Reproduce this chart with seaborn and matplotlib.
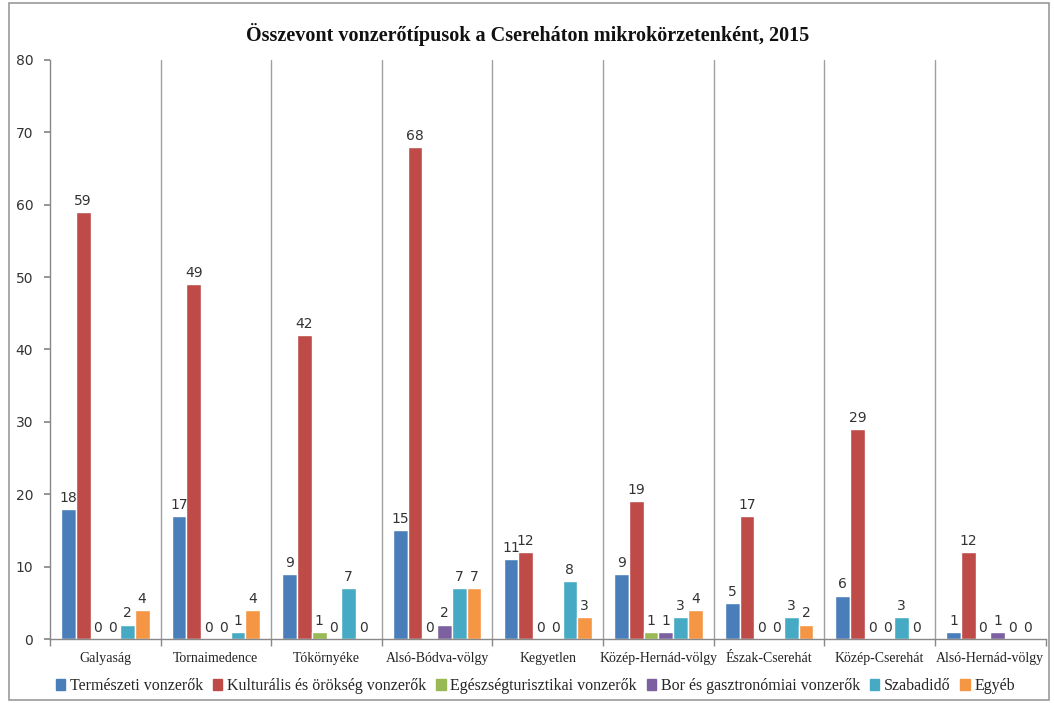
import matplotlib
matplotlib.use("Agg")
import matplotlib.pyplot as plt
import seaborn as sns
import pandas as pd
from matplotlib.patches import Rectangle

categories = ["Galyaság", "Tornaimedence", "Tókörnyéke", "Alsó-Bódva-völgy", "Kegyetlen",
              "Közép-Hernád-völgy", "Észak-Cserehát", "Közép-Cserehát", "Alsó-Hernád-völgy"]
series = ["Természeti vonzerők", "Kulturális és örökség vonzerők", "Egészségturisztikai vonzerők",
          "Bor és gasztronómiai vonzerők", "Szabadidő", "Egyéb"]
termeszeti = [18, 17, 9, 15, 11, 9, 5, 6, 1]
kulturalis = [59, 49, 42, 68, 12, 19, 17, 29, 12]
egeszseg = [0, 0, 1, 0, 0, 1, 0, 0, 0]
bor = [0, 0, 0, 2, 0, 1, 0, 0, 1]
szabadido = [2, 1, 7, 7, 8, 3, 3, 3, 0]
egyeb = [4, 4, 0, 7, 3, 4, 2, 0, 0]
yticks = [0, 10, 20, 30, 40, 50, 60, 70, 80]

colors = ["#4A7EBB", "#BE4B48", "#98B954", "#7D60A0", "#46AAC5", "#F59645"]

values = [termeszeti, kulturalis, egeszseg, bor, szabadido, egyeb]
rows = []
for s, vals in zip(series, values):
    for c, v in zip(categories, vals):
        rows.append({"cat": c, "series": s, "value": v})
df = pd.DataFrame(rows)

sns.set_theme(style="white")
plt.rcParams['font.family'] = ['Liberation Serif', 'DejaVu Sans']

fig = plt.figure(figsize=(10.54, 7.03), dpi=100)
ax = fig.add_axes([0.0474, 0.091, 0.9446, 0.8237])

sns.barplot(data=df, x="cat", y="value", hue="series", order=categories, hue_order=series,
            palette=colors, width=0.8, saturation=1, ax=ax, legend=True, errorbar=None)

for cont in ax.containers:
    ax.bar_label(cont, padding=3, fontsize=10, family="DejaVu Sans", color="#333333")

ax.set_xlim(-0.5, len(categories) - 0.5)
ax.set_ylim(0, 80)
ax.set_yticks(yticks)
ax.set_yticklabels([str(t) for t in yticks], family="DejaVu Sans", fontsize=10, color="#333333")
ax.tick_params(axis="y", length=4, color="#888888", direction="out", left=True, pad=8)
ax.set_xticks(range(len(categories)))
ax.set_xticklabels(categories, fontsize=10, color="#222222")
ax.tick_params(axis="x", which="major", length=0, pad=9)
ax.set_xticks([i + 0.5 for i in range(-1, len(categories))], minor=True)
ax.tick_params(axis="x", which="minor", length=5, color="#888888", direction="out", bottom=True)
ax.set_xlabel("")
ax.set_ylabel("")

for i in range(len(categories) - 1):
    ax.axvline(i + 0.5, color="#A0A0A0", lw=1, zorder=0)

for side in ["top", "right"]:
    ax.spines[side].set_visible(False)
for side in ["left", "bottom"]:
    ax.spines[side].set_color("#888888")
    ax.spines[side].set_linewidth(1)

ax.set_title("Összevont vonzerőtípusok a Cserehátan mikrokörzetenként, 2015".replace("Cserehátan", "Cserehát" + "on"),
             fontsize=14.5, fontweight="bold", pad=14, color="#111111")
ax.title.set_position((0.48, 1.0))

ax.legend_.remove()
handles = [Rectangle((0, 0), 1, 1, color=c) for c in colors]
fig.legend(handles, series, loc="center", bbox_to_anchor=(0.508, 0.024), ncol=6, frameon=False,
           fontsize=11.5, handlelength=0.6, handleheight=0.6, handletextpad=0.3, columnspacing=0.6)

fig.patches.append(Rectangle((0.009, 0.004), 0.986, 0.992, transform=fig.transFigure,
                             fill=False, edgecolor="#999999", lw=1.2))

fig.savefig("out.png", dpi=100)
